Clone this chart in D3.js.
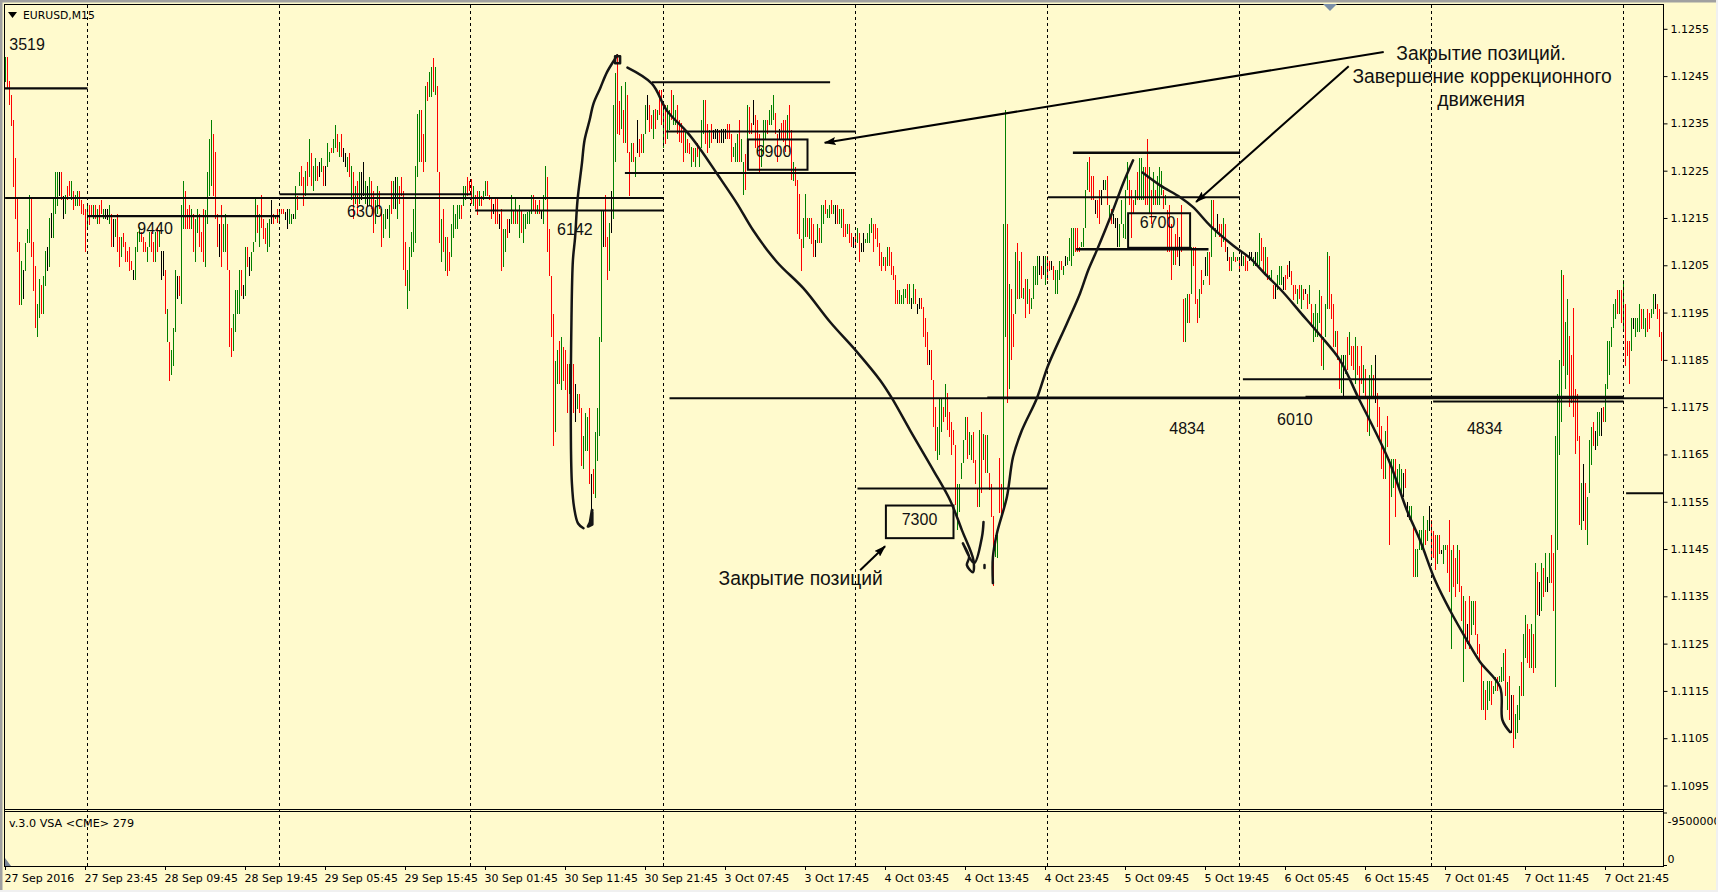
<!DOCTYPE html>
<html><head><meta charset="utf-8">
<script src="https://cdn.jsdelivr.net/npm/d3@7"></script>
<style>html,body{margin:0;padding:0;background:#f0f0f0;overflow:hidden}svg{display:block}</style>
</head><body><svg id="c" width="1718" height="892"></svg>
<script>
// prices are stored as points above 1.1000 (1.1205 = 2050)
const highs = [
2490,2490,2439,2409,2357,2277,2194,2099,2058,2039,2097,2127,2199,2190,2099,2049,1968,2020,2009,2028,
2080,2089,2149,2160,2190,2248,2248,2248,2248,2197,2199,2218,2229,2229,2208,2199,2208,2208,2188,2180,
2168,2180,2178,2178,2178,2178,2169,2178,2188,2169,2168,2168,2178,2159,2148,2148,2159,2109,2109,2119,
2099,2080,2089,2058,2039,2089,2120,2130,2120,2109,2099,2089,2120,2120,2099,2120,2130,2123,2080,2080,
2039,1958,1887,1870,1918,2039,2028,2028,2178,2229,2208,2168,2178,2168,2159,2148,2168,2159,2120,2169,
2167,2248,2317,2357,2328,2289,2159,2137,2178,2137,2159,2137,2039,1918,1947,1998,1998,2039,2039,2008,
2089,2089,2067,2079,2099,2190,2178,2159,2199,2148,2129,2139,2148,2188,2159,2157,2168,2168,2168,2168,
2162,2168,2168,2159,2159,2218,2197,2248,
2259,2237,2249,2269,2317,2288,2259,2277,2259,2269,2277,2259,2259,2309,2289,2298,2317,2347,2328,2310,
2328,2298,2288,2278,2288,2259,2248,2218,2229,2248,2248,2268,2229,2218,2237,2229,2208,2187,2218,2208,
2169,2159,2169,2168,2178,2228,2229,2237,2237,2217,2237,2208,2099,2039,2088,2120,2169,2259,2369,2379,
2379,2328,2428,2438,2458,2469,2488,2469,2428,2248,2148,2168,2109,2109,2079,2137,2178,2159,2178,2178,
2178,2218,2218,2237,2229,2233,2218,2199,2208,2208,2197,2208,2229,2229,2199,2190,2180,2190,2190,2159,
2169,2127,2127,2148,2148,2199,2167,2190,2167,2178,2167,2159,2159,2162,2167,2199,2199,2188,2178,2188,
2167,2199,2259,2237,2127,2027,1947,1848,1870,1889,1899,1878,1870,1841,1841,1841,1841,1799,1778,1778,
1748,1689,1738,1729,1748,1609,1619,1697,1748,1899,2167,2166,2199,2109,2139,2208,2388,2457,2497,2398,
2428,2378,2438,2409,2289,2309,2309,2278,2357,2317,
2328,2328,2388,2409,2388,2367,2378,2381,2379,2420,2420,2378,2388,2388,2378,2420,2409,2378,2388,2358,
2350,2337,2337,2318,2309,2300,2299,2299,2309,2299,2358,2399,2399,2348,2337,2348,2337,2339,2339,2337,
2339,2339,2339,2348,2348,2328,2300,2309,2328,2358,2318,2268,2286,2388,2385,2350,2399,2367,2358,2328,
2299,2358,2358,2358,2378,2388,2409,2371,2328,2339,2350,2358,2358,2368,2388,2335,2268,2258,2230,2200,
2106,2149,2200,2149,2149,2149,2138,2103,2138,2128,2178,2178,2189,2168,2178,2189,2178,2178,2178,2168,
2168,2168,2138,2138,2138,2118,2110,2118,2128,2118,2097,2118,2106,2118,2138,2149,2138,2138,2128,2097,
2078,2068,2068,2089,2089,2078,2048,2029,1997,1997,1987,1999,1999,2010,2010,1980,2010,1999,1968,1980,
1980,1961,1939,1909,1870,1870,1808,1751,1708,1768,1768,1751,1800,1779,1740,1719,1701,1670,1588,1588,
1631,1680,1729,1729,1698,1691,1698,1638,1578,1701,
1740,1694,1691,1691,1610,1588,1519,1479,1479,1642,1588,2138,2379,2138,2010,1999,1948,2079,2098,2058,
2079,2001,2020,2020,1999,1980,2049,2049,2069,2069,2049,2069,2069,2069,2059,2059,2049,2039,2039,2058,
2059,2049,2069,2068,2108,2128,2128,2128,2128,2089,2099,2128,2209,2268,2278,2238,2238,2189,2189,2209,
2209,2230,2230,2238,2178,2168,2159,2149,2149,2138,2189,2138,2209,2268,2230,2209,2189,2209,2247,2277,
2277,2258,2258,2318,2258,2209,2247,2209,2238,2258,2249,2209,2198,2166,2177,2138,2089,2117,2149,2110,
2177,1978,1980,1989,1989,2089,2089,2089,1978,1999,2039,2018,2068,2079,2079,2189,2187,2128,2159,2138,
2138,2149,2138,2089,2068,2068,2078,2068,2068,2068,2078,2069,2069,2058,2078,2079,2068,2079,2079,2119,
2108,2089,2089,2068,2029,2039,2008,2008,2029,2049,
2049,2025,2029,2050,2058,2038,2009,2009,1999,2009,2009,1999,1999,1989,2009,1969,1949,1969,1949,1998,
1986,1898,1969,2079,2069,1989,1969,1910,1910,1849,1860,1860,1860,1898,1909,1879,1879,1898,1879,1838,
1879,1840,1830,1768,1819,1840,1819,1860,1779,1750,1710,1659,1700,1731,1640,1640,1640,1640,1620,1630,
1620,1611,1620,1550,1540,1540,1500,1450,1450,1490,
1490,1519,1490,1511,1540,1511,1488,1479,1479,1479,1449,1459,1459,1459,1511,1449,1459,1430,1459,1449,
1371,1350,1340,1291,1350,1340,1340,1340,1270,1250,1209,1170,1151,1170,1170,1170,1160,1179,1179,1181,
1201,1230,1239,1169,1181,1141,1141,1101,1120,1160,1211,1270,1310,1291,1280,1291,1270,1420,1401,1380,
1420,1410,1442,1391,1442,1479,1442,1690,1778,1849,2039,2029,1930,1979,1900,1860,1960,1789,1778,1690,
1590,1629,1590,1560,1680,1709,1719,1699,1740,1740,1749,1750,1800,1889,1889,1919,1969,1979,1998,1998,
1998,2019,1969,1890,1890,1939,1939,1939,1939,1969,1958,1958,1939,1958,1949,1958,1989,1989,1969,1958,1909
];
const lows = [
2437,2423,2388,2345,2216,2147,2078,1967,1967,1979,2037,2097,2097,2067,1996,1917,1898,1938,1947,1946,
2007,2037,2047,2108,2108,2159,2176,2197,2188,2147,2159,2188,2197,2187,2167,2176,2176,2176,2159,2157,
2078,2127,2136,2157,2148,2148,2137,2137,2159,2148,2148,2146,2137,2088,2088,2109,2078,2047,2068,2088,
2056,2056,2037,2039,2018,2018,2078,2099,2099,2078,2078,2056,2088,2078,2056,2056,2078,2088,2018,2028,
1947,1887,1806,1817,1838,1908,1979,1986,1968,2127,2127,2127,2127,2127,2078,2056,2118,2088,2078,2056,
2047,2137,2197,2217,2197,2148,2088,2067,2046,2078,2078,2039,1877,1857,1868,1908,1947,1947,1986,1979,
1986,2046,2028,2037,2078,2099,2118,2088,2128,2106,2095,2078,2088,2137,2137,2148,2139,2137,2159,2159,
2146,2126,2137,2137,2148,2148,2167,2218,
2217,2176,2197,2218,2237,2217,2206,2228,2228,2237,2247,2217,2217,2257,2268,2288,2288,2298,2289,2278,
2278,2268,2257,2247,2237,2188,2148,2180,2159,2180,2187,2197,2180,2175,2176,2169,2118,2137,2159,2169,
2088,2107,2127,2148,2107,2159,2169,2169,2148,2180,2197,2039,2007,1958,1996,2067,2078,2097,2237,2268,
2268,2248,2268,2398,2405,2405,2416,2409,2248,2097,2056,2078,2037,2027,2037,2067,2107,2127,2127,2148,
2147,2176,2187,2197,2206,2180,2176,2168,2157,2176,2176,2187,2197,2197,2187,2148,2159,2137,2137,2127,
2037,2047,2078,2107,2118,2137,2137,2137,2137,2107,2118,2097,2126,2137,2137,2159,2167,2159,2159,2159,
2148,2137,2188,2078,2027,1898,1667,1697,1799,1798,1787,1806,1787,1737,1778,1787,1737,1718,1746,1737,
1626,1619,1658,1657,1588,1517,1567,1558,1637,1688,1887,2088,2088,2018,2037,2118,2148,2268,2328,2326,
2338,2308,2308,2288,2197,2268,2268,2237,2287,2278,
2288,2288,2328,2357,2332,2339,2316,2339,2357,2367,2346,2297,2307,2318,2337,2357,2346,2346,2328,2311,
2309,2268,2288,2288,2286,2258,2268,2258,2279,2258,2299,2328,2307,2288,2297,2309,2318,2318,2309,2309,
2309,2309,2318,2318,2318,2268,2279,2268,2268,2268,2268,2198,2209,2251,2328,2328,2346,2299,2288,2247,
2258,2286,2318,2328,2346,2346,2358,2328,2268,2318,2318,2311,2290,2318,2290,2230,2228,2217,2117,2106,
2038,2087,2109,2110,2106,2096,2068,2068,2098,2098,2098,2138,2158,2149,2149,2158,2158,2138,2138,2138,
2128,2109,2109,2117,2097,2089,2087,2089,2097,2057,2078,2078,2097,2097,2097,2118,2078,2106,2089,2048,
2038,2048,2038,2048,2048,2029,2018,1969,1968,1968,1969,1969,1980,1969,1969,1958,1969,1968,1948,1958,
1958,1899,1877,1839,1839,1808,1708,1658,1638,1648,1698,1719,1729,1701,1687,1648,1670,1543,1490,1529,
1599,1631,1680,1641,1648,1638,1631,1588,1539,1539,
1568,1638,1610,1610,1574,1517,1371,1433,1431,1526,1517,1538,1899,1758,1789,1849,1877,1948,1978,1978,
1980,1978,1939,1969,1948,1958,1978,2008,2008,2029,2020,2029,2008,2018,2038,2039,2018,1989,1989,2018,
2039,2029,2049,2050,2059,2049,2069,2079,2079,2079,2089,2089,2128,2209,2205,2187,2189,2159,2149,2138,
2177,2209,2209,2178,2149,2138,2138,2128,2089,2089,2138,2108,2106,2209,2177,2108,2159,2177,2187,2187,
2187,2187,2177,2177,2159,2138,2177,2177,2177,2177,2198,2168,2177,2078,2078,2018,2050,2050,2068,2049,
2078,1888,1888,1928,1928,1989,2049,1969,1928,1939,1989,2008,2027,2027,2008,2068,2128,2110,2117,2110,
2089,2099,2078,2058,2038,2038,2058,2057,2058,2038,2049,2049,2038,2038,2059,2059,2049,2049,2049,2049,
2058,2038,2027,2018,2018,2018,1978,1978,1997,2008,
2008,1997,1997,2020,2025,2008,1976,1989,1969,1979,1958,1976,1989,1958,1969,1920,1888,1898,1898,1927,
1838,1828,1898,1958,1958,1937,1877,1877,1849,1788,1779,1768,1821,1828,1860,1838,1828,1800,1819,1768,
1800,1779,1768,1697,1688,1768,1768,1759,1708,1680,1620,1599,1599,1666,1459,1559,1578,1518,1588,1578,
1560,1560,1578,1518,1511,1507,1390,1390,1390,1447,
1447,1447,1458,1468,1488,1430,1430,1406,1419,1439,1439,1418,1447,1399,1359,1239,1370,1349,1377,1359,
1298,1169,1239,1250,1239,1268,1289,1268,1229,1209,1109,1109,1088,1109,1129,1120,1144,1150,1150,1169,
1169,1170,1139,1109,1089,1060,1029,1049,1060,1089,1139,1139,1220,1210,1199,1199,1188,1199,1310,1308,
1319,1349,1360,1359,1378,1378,1319,1158,1447,1648,1719,1838,1789,1817,1750,1759,1729,1650,1678,1500,
1490,1509,1490,1459,1568,1628,1667,1659,1668,1689,1689,1719,1719,1789,1819,1877,1918,1937,1948,1948,
1928,1909,1838,1858,1798,1868,1916,1898,1909,1909,1916,1916,1898,1909,1916,1939,1948,1958,1937,1898,1848
];
// g = up bar, r = down bar, k = doji
const kinds = [
"grrrrrrrgk","gggrrrggrg","gkgkgggkrk","grrgrggrrr","rgrrgrgrrg","kkgrkgrrgr","rrrrkgggrr","rggrrgrgkk","rgrgggkrgg","rrrgrggrrr","ggggrrrkrg","grrrggggrk","grkgggrgrr","rggkrgrgrr","kkggkgrg",
"rrgrgrggrk","grkggrggrg","rkkgrgrgrg","kkgkgrrggr","rggkgrgkgr","rrrggggggg","rrgrggrgrr","grgrrggggg","rggrrrgrrg","rggrrrkrrk","rggrkgrgrg","rgggggrrgr","kggrrrrggr","grrrggrkgr","rgggrkrggg","gkrrgkggrr","grgrrgrgkr",
"rggkrrgrgr","rgrggrggrr","rrgrrgrgrg","ggrrgrkkkr","kkkrrrgggr","ggrgrrkrrr","gggrgggrrk","rrrgrrgrrr","rggrgrrkgr","ggrggrgkrg","grrgrrkrgr","kkggggrrrr","rgrgrrrrrg","gggrgkgrkk","rrrrkrrrgg","grgrrrrrgg","gggrggrrrg",
"rgrgrrrggr","rggrgrrgrg","rgrgrggggk","rkgrrkrggg","rgkggggrrr","ggggrrrkrr","kkgrgrkkkg","ggggrrrgrg","ggrrgrgrgg","grgrrrgrrk","rrggrgrrrg","rgkgrgrgkr","rgrkrggrgr","kgrrkkgkgg","rrgrggrkgg",
"gkrrkrrrgr","grkrgrgggg","rgggrrrgrr","gkgrgrrgrr","rgrrggrkrr","rrgrrggrgg","gkrkggrggg",
"ggrgkrrrgr","kggrrgrrgr","rgrkrggrrr","rgrggrggrg","ggrgrkrggg","rggrrgrgrk","grgkgrrggg","grggrrrrrr","gkrgggrkgg","krggggggrg","rgrrrgkggg","rggrrggkrrr"
].join("");
const yLabels = ["1.1255","1.1245","1.1235","1.1225","1.1215","1.1205","1.1195","1.1185","1.1175","1.1165","1.1155","1.1145","1.1135","1.1125","1.1115","1.1105","1.1095"];
const yTicks = [2550,2450,2350,2250,2150,2050,1950,1850,1750,1650,1550,1450,1350,1250,1150,1050,950];
const dateLabels = ["27 Sep 2016","27 Sep 23:45","28 Sep 09:45","28 Sep 19:45","29 Sep 05:45","29 Sep 15:45","30 Sep 01:45","30 Sep 11:45","30 Sep 21:45","3 Oct 07:45","3 Oct 17:45","4 Oct 03:45","4 Oct 13:45","4 Oct 23:45","5 Oct 09:45","5 Oct 19:45","6 Oct 05:45","6 Oct 15:45","7 Oct 01:45","7 Oct 11:45","7 Oct 21:45"];
const separators = [41,137,233,329,425,521,617,713,809];
// level lines: start bar, end bar, price, weight
const levels = [[-0.3,41,2424,2.4],[-0.2,329,2192,2],[41,137,2154,2.4],[137,233,2200,2],[234.8,329,2166,2],[323.2,412.3,2437,2],[330.3,425.2,2333,2],[309.7,425.2,2245,2],[332,829,1769,2],[490.9,809,1770,2.4],[650,809,1771,3],[426,521.2,1578,2],[521.2,617.2,2194,2],[533.7,617.3,2288,2.4],[535.3,601.5,2084,2.4],[618.7,712.8,1809,2],[713.8,809,1762,2],[810.3,829,1568,2]];
const boxes = [[371.2,401,2316,2252],[440.2,474,1542,1473],[561.3,592.3,2160,2087]];
const notes = [["3519",10.8,2506],["9440",74.8,2117],["6300",179.7,2153],["6142",284.7,2115],["6900",384,2278],["7300",457,1500],["6700",576,2128],["4834",590.8,1693],["6010",644.7,1712],["4834",739.6,1693]];
const captions = [["Закрытие позиций",397.6,1373],["Закрытие позиций.",737.8,2483],["Завершение коррекционного",738.3,2435],["движения",737.8,2386]];
const arrows = [[689.1,2501,409.6,2309],[671.6,2471,595.3,2184],[427.3,1405,439.8,1456]];
// hand-drawn strokes: bar, price
const stroke1 = [[289,1494],[286.3,1504],[284.3,1538],[283.2,1589],[282.7,1680],[283,1940],[283.7,2060],[284.8,2109],[286,2187],[288.2,2265],[289.5,2314],[292,2356],[294,2392],[297.3,2424],[300.7,2458],[304.8,2487],[305.8,2494]];
const stroke1b = [[293.3,1532],[292.3,1506],[291.3,1498],[293.3,1502],[293.3,1528]];
const stroke1c = [[304.8,2492],[307.3,2492],[307.3,2477],[304.8,2477],[304.8,2492]];
const stroke2 = [[311,2468],[323.2,2434],[330.7,2377],[340.7,2332],[347.3,2296],[355.7,2244],[365.7,2181],[373.8,2124],[385.7,2057],[399,2001],[412.3,1930],[425.7,1867],[437.3,1807],[443.2,1769],[452.3,1701],[464,1616],[472.3,1553],[478.2,1490],[484,1426],[483.7,1401],[480.7,1416],[481.8,1433],[478.7,1462],[484.3,1420],[488.2,1475],[489,1507]];
const stroke2b = [[489.5,1416],[489.5,1410]];
const stroke3 = [[493.7,1378],[493.7,1433],[495.7,1483],[500.7,1560],[503.8,1645],[508.2,1701],[515.7,1769],[521.3,1838],[530.7,1927],[537.3,1991],[541.3,2039],[545.7,2082],[553.2,2160],[558.8,2223],[563.8,2272]];
const stroke4 = [[568.5,2246],[577.3,2219],[587.3,2194],[593.8,2173],[602.3,2134],[613.8,2092],[622.3,2065],[628.8,2036],[638.8,1993],[647.3,1951],[657.3,1902],[667.3,1849],[676.3,1771],[683.8,1708],[692.3,1631],[700.7,1532],[707.3,1468],[714.8,1384],[722.3,1320],[730.7,1257],[737.3,1211],[747.3,1158],[748.5,1088],[752.3,1063]];

const bg = "#FFFACD", ink = "#000";
const svg = d3.select("#c");
const x = d3.scaleLinear().domain([0,828]).range([5.5,1661.5]);
const y = d3.scaleLinear().domain([950,2550]).range([785.5,28.8]);
const axisFont = "'DejaVu Sans',sans-serif", noteFont = "'Liberation Sans',Arial,sans-serif";

// window chrome and panes
svg.append("rect").attr("width",1718).attr("height",892).attr("fill",bg);
svg.append("rect").attr("width",1718).attr("height",2.5).attr("fill","#a0a0a0");
svg.append("rect").attr("width",2.5).attr("height",892).attr("fill","#a0a0a0");
svg.append("rect").attr("x",1716).attr("width",2).attr("height",892).attr("fill","#f0f0f0");
svg.append("rect").attr("y",890).attr("width",1718).attr("height",2).attr("fill","#f0f0f0");

const frame = svg.append("g").attr("fill","none").attr("stroke",ink).attr("stroke-width",1).attr("shape-rendering","crispEdges");
frame.append("path").attr("d","M4.5 4.5H1663.5V866.5H4.5Z");
frame.append("path").attr("d","M4.5 809.5H1663.5M4.5 811.5H1663.5");

// bars
const bars = d3.range(highs.length).map(i=>({i,h:highs[i],l:lows[i],k:kinds[i]}));
const barColour = {g:"#008000",r:"#FF0000",k:"#000000"};
svg.append("g").attr("shape-rendering","crispEdges").selectAll("line").data(bars).join("line")
  .attr("x1",d=>x(d.i)).attr("x2",d=>x(d.i)).attr("y1",d=>y(d.h)).attr("y2",d=>y(d.l))
  .attr("stroke",d=>barColour[d.k]).attr("stroke-width",1);

// period separators
svg.append("g").selectAll("line").data(separators).join("line")
  .attr("x1",d=>Math.round(x(d))-0.5).attr("x2",d=>Math.round(x(d))-0.5).attr("y1",5).attr("y2",866)
  .attr("stroke",ink).attr("stroke-width",1).attr("stroke-dasharray","3,3").attr("shape-rendering","crispEdges");

// levels
svg.append("g").selectAll("line").data(levels).join("line")
  .attr("x1",d=>x(d[0])).attr("x2",d=>x(d[1])).attr("y1",d=>y(d[2])).attr("y2",d=>y(d[2]))
  .attr("stroke","#0a0a0a").attr("stroke-width",d=>d[3]);

// boxes
svg.append("g").selectAll("rect").data(boxes).join("rect")
  .attr("x",d=>x(d[0])).attr("width",d=>x(d[1])-x(d[0])).attr("y",d=>y(d[2])).attr("height",d=>y(d[3])-y(d[2]))
  .attr("fill","none").attr("stroke","#0a0a0a").attr("stroke-width",2);

// strokes
const pen = d3.line().x(d=>x(d[0])).y(d=>y(d[1])).curve(d3.curveCatmullRom.alpha(0.5));
const penStraight = d3.line().x(d=>x(d[0])).y(d=>y(d[1]));
const sk = svg.append("g").attr("fill","none").attr("stroke","#151515").attr("stroke-linecap","round").attr("stroke-linejoin","round");
[stroke1,stroke2,stroke3,stroke4].forEach(s=>sk.append("path").attr("d",pen(s)).attr("stroke-width",2.5));
sk.append("path").attr("d",penStraight(stroke1b)).attr("stroke-width",3);
sk.append("path").attr("d",penStraight(stroke1c)).attr("stroke-width",2.5);
sk.append("path").attr("d",penStraight(stroke2b)).attr("stroke-width",2.5);

// arrows
svg.append("defs").append("marker").attr("id","ah").attr("viewBox","0 0 12 8").attr("refX",11).attr("refY",4)
  .attr("markerWidth",12).attr("markerHeight",8).attr("markerUnits","userSpaceOnUse").attr("orient","auto")
  .append("path").attr("d","M0 0L12 4L0 8L2 4Z").attr("fill","#000");
svg.append("g").selectAll("line").data(arrows).join("line")
  .attr("x1",d=>x(d[0])).attr("y1",d=>y(d[1])).attr("x2",d=>x(d[2])).attr("y2",d=>y(d[3]))
  .attr("stroke","#000").attr("stroke-width",2).attr("marker-end","url(#ah)");

// text notes
svg.append("g").selectAll("text").data(notes).join("text")
  .attr("x",d=>x(d[1])).attr("y",d=>y(d[2])).attr("text-anchor","middle")
  .attr("font-family",noteFont).attr("font-size",16).attr("fill","#111").text(d=>d[0]);
svg.append("g").selectAll("text").data(captions).join("text")
  .attr("x",d=>x(d[1])).attr("y",d=>y(d[2])).attr("text-anchor","middle")
  .attr("font-family",noteFont).attr("font-size",19.3).attr("fill","#111").text(d=>d[0]);

// chart title, indicator name
svg.append("path").attr("d","M8 12H17L12.5 18Z").attr("fill","#000");
svg.append("text").attr("x",23).attr("y",19).attr("font-family",axisFont).attr("font-size",10.8).attr("fill","#000").text("EURUSD,M15");
svg.append("text").attr("x",9).attr("y",827).attr("font-family",axisFont).attr("font-size",11.2).attr("fill","#000").text("v.3.0 VSA <CME> 279");

// price axis
const tickLabel = new Map(yTicks.map((t,i)=>[t,yLabels[i]]));
const ax = svg.append("g").attr("transform","translate(1663.5,0)")
  .call(d3.axisRight(y).tickValues(yTicks).tickSize(4).tickPadding(3).tickFormat(d=>tickLabel.get(d)));
ax.select(".domain").remove();
ax.selectAll("text").attr("font-family",axisFont).attr("font-size",11).attr("fill","#000");

// indicator pane axis
const vol = d3.scaleLinear().domain([0,9500000]).range([865.5,813]);
const vTicks = [0,9500000], vLabels = {0:"0",9500000:"-9500000"};
svg.append("defs").append("clipPath").attr("id","rc").append("rect").attr("x",1664).attr("y",805).attr("width",52).attr("height",70);
svg.append("g").attr("clip-path","url(#rc)").selectAll("text").data(vTicks).join("text")
  .attr("x",1667.5).attr("y",d=>vol(d)+(d===0?-3:12)).attr("font-family",axisFont).attr("font-size",11).attr("fill","#000")
  .text(d=>vLabels[d]);
svg.append("g").selectAll("line").data(vTicks).join("line").attr("x1",1663.5).attr("x2",1667).attr("y1",d=>vol(d)).attr("y2",d=>vol(d)).attr("stroke","#000");

// time axis
const tx = d3.scaleLinear().domain([0,20]).range([5.5,1605.5]);
const tk = svg.append("g");
tk.selectAll("line").data(dateLabels).join("line").attr("x1",(d,i)=>tx(i)).attr("x2",(d,i)=>tx(i)).attr("y1",866).attr("y2",870)
  .attr("stroke","#000").attr("shape-rendering","crispEdges");
tk.selectAll("text").data(dateLabels).join("text").attr("x",(d,i)=>tx(i)-1).attr("y",882)
  .attr("font-family",axisFont).attr("font-size",11).attr("fill","#000").text(d=>d);

// corner and scroll markers
svg.append("path").attr("d","M5 858L11 866H5Z").attr("fill","#7a8696");
svg.append("path").attr("d","M1323 4H1337L1330 11Z").attr("fill","#7a8fa8");
</script>
</body></html>
